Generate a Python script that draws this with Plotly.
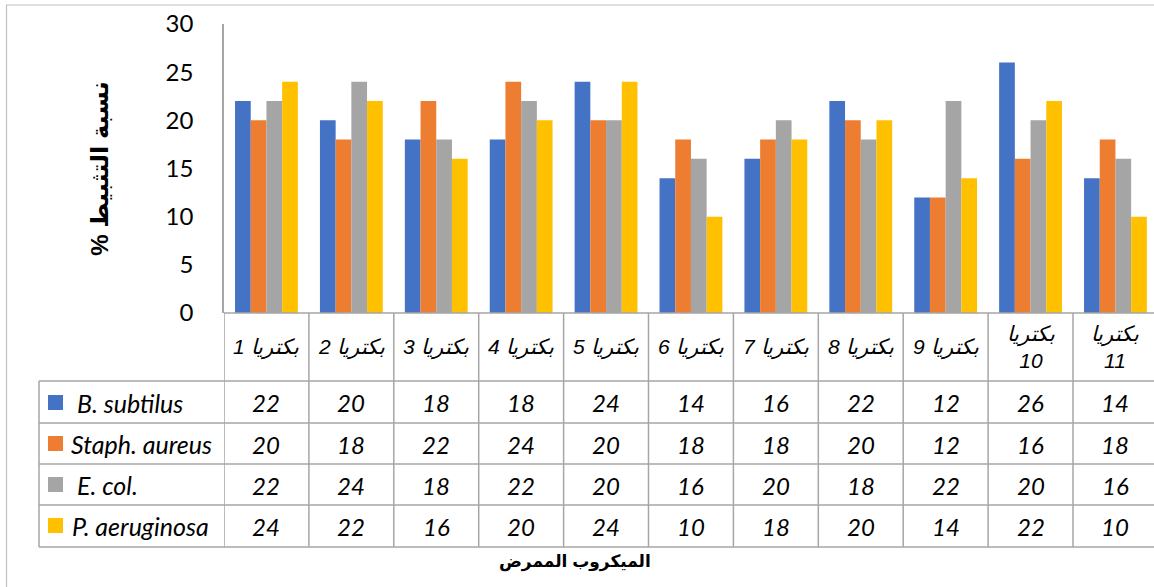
import plotly.graph_objects as go

categories = ["بكتريا 1", "بكتريا 2", "بكتريا 3", "بكتريا 4", "بكتريا 5", "بكتريا 6",
              "بكتريا 7", "بكتريا 8", "بكتريا 9", "بكتريا<br>10", "بكتريا<br>11"]
series_names = ["B. subtilus", "Staph. aureus", "E. col.", "P. aeruginosa"]
b_subtilus = [22, 20, 18, 18, 24, 14, 16, 22, 12, 26, 14]
staph_aureus = [20, 18, 22, 24, 20, 18, 18, 20, 12, 16, 18]
e_coli = [22, 24, 18, 22, 20, 16, 20, 18, 22, 20, 16]
p_aeruginosa = [24, 22, 16, 20, 24, 10, 18, 20, 14, 22, 10]
colors = ["#4472C4", "#ED7D31", "#A5A5A5", "#FFC000"]
y_ticks = [0, 5, 10, 15, 20, 25, 30]
y_title = "نسبة التثبيط %\u200f"
x_title = "الميكروب الممرض"

series_values = [b_subtilus, staph_aureus, e_coli, p_aeruginosa]

W, H = 1154, 587
L, R, T, B = 224, 1154, 24, 313  # plot area in page pixels


def px(x):
    return (x - L) / (R - L)


def py(y):
    return (B - y) / (B - T)


n = len(categories)
xs = list(range(n))
fig = go.Figure()
for name, vals, col in zip(series_names, series_values, colors):
    fig.add_trace(go.Bar(x=xs, y=vals, name=name, marker=dict(color=col, line=dict(width=0)),
                         showlegend=False, hoverinfo="skip"))

cat_w = 84.9
x_max = -0.5 + (R - L) / cat_w

grid = "#A6A6A6"
shapes = []
shapes.append(dict(type="rect", xref="paper", yref="paper", x0=px(6.5), x1=px(1170),
                   y0=py(600), y1=py(5), line=dict(color="#BFBFBF", width=1.2)))
shapes.append(dict(type="line", xref="paper", yref="paper", x0=px(224), x1=px(1170),
                   y0=py(313), y1=py(313), line=dict(color=grid, width=1.5)))
row_lines = [381, 423, 464, 505, 547]
for yy in row_lines:
    shapes.append(dict(type="line", xref="paper", yref="paper", x0=px(39), x1=px(1170),
                       y0=py(yy), y1=py(yy), line=dict(color=grid, width=1.5)))
shapes.append(dict(type="line", xref="paper", yref="paper", x0=px(39), x1=px(39),
                   y0=py(381), y1=py(547), line=dict(color=grid, width=1.5)))
for i in range(n + 1):
    shapes.append(dict(type="line", xref="x", yref="paper", x0=i - 0.5, x1=i - 0.5,
                       y0=py(313), y1=py(547), line=dict(color=grid, width=1.5)))

annotations = []
cell_font = dict(family="Lato", size=24, color="#000000")
for i, c in enumerate(categories):
    annotations.append(dict(x=i, y=py(347), xref="x", yref="paper", text="<i>%s</i>" % c,
                            showarrow=False, xanchor="center", yanchor="middle",
                            font=dict(family="Liberation Sans, DejaVu Sans", size=21, color="#000"),
                            align="center"))
row_centers = [403, 444, 485, 526]
legend_x = [75, 69, 75, 70]
for r, (name, vals, col) in enumerate(zip(series_names, series_values, colors)):
    yc = row_centers[r]
    shapes.append(dict(type="rect", xref="paper", yref="paper", x0=px(48), x1=px(63),
                       y0=py(yc + 7), y1=py(yc - 8), fillcolor=col, line=dict(width=0)))
    annotations.append(dict(x=px(legend_x[r]), y=py(yc), xref="paper", yref="paper",
                            text="<i>%s</i>" % name, showarrow=False, xanchor="left",
                            yanchor="middle", font=dict(family="Lato", size=25, color="#000")))
    for i, v in enumerate(vals):
        annotations.append(dict(x=i, y=py(yc), xref="x", yref="paper", text="<i>%d</i>" % v,
                                showarrow=False, xanchor="center", yanchor="middle",
                                font=cell_font))
annotations.append(dict(x=px(575), y=py(562), xref="paper", yref="paper",
                        text="<b>%s</b>" % x_title, showarrow=False, xanchor="center",
                        yanchor="middle",
                        font=dict(family="Liberation Sans, DejaVu Sans", size=17, color="#000")))

fig.update_layout(
    width=W, height=H,
    margin=dict(l=L, r=W - R, t=T, b=H - B, pad=0),
    paper_bgcolor="white", plot_bgcolor="white",
    barmode="group", bargap=0.26, bargroupgap=0,
    shapes=shapes, annotations=annotations,
    xaxis=dict(range=[-0.5, x_max], showticklabels=False, showgrid=False, zeroline=False,
               showline=False, ticks=""),
    yaxis=dict(range=[0, 30], tickvals=y_ticks, showgrid=False, zeroline=False,
               showline=True, linecolor=grid, linewidth=1.5,
               ticks="outside", ticklen=24, tickcolor="rgba(0,0,0,0)",
               tickfont=dict(family="Lato", size=24, color="#000"),
               title=dict(text="<b>%s</b>" % y_title, standoff=50,
                          font=dict(family="Liberation Sans, DejaVu Sans", size=24, color="#000"))),
)

fig.write_html("out.html", config={"displayModeBar": False},
               post_script="document.body.style.margin='0';document.body.style.overflow='hidden';")
